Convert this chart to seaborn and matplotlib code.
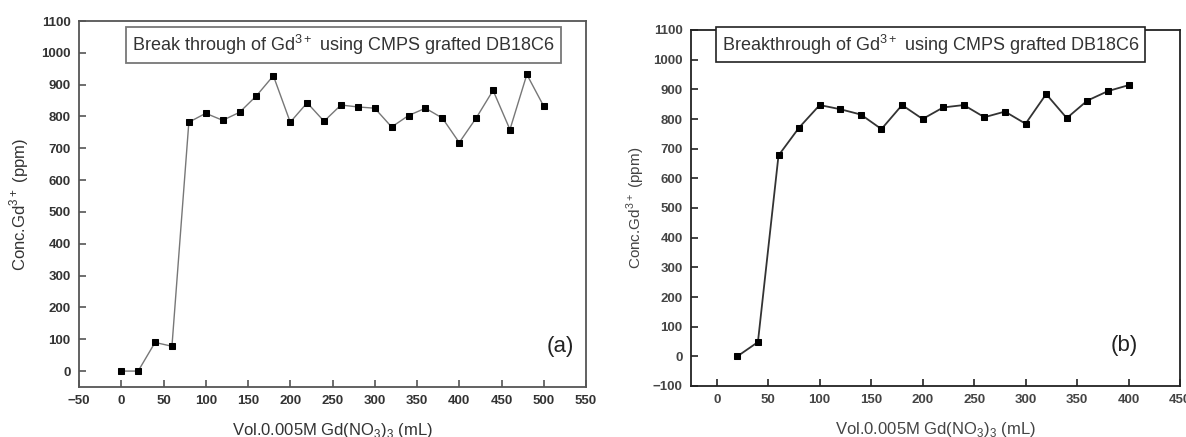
import numpy as np
import pandas as pd
import matplotlib
matplotlib.use("Agg")
from matplotlib import pyplot as plt
import seaborn as sns

sns.set_theme(style="white")
plt.rcParams['font.family'] = ['Liberation Sans', 'DejaVu Sans']
plt.rcParams['mathtext.fontset'] = 'custom'
plt.rcParams['mathtext.rm'] = 'Liberation Sans'

# Panel (a) data
vol_a = [0, 20, 40, 60, 80, 100, 120, 140, 160, 180, 200, 220, 240,
         260, 280, 300, 320, 340, 360, 380, 400, 420, 440, 460, 480, 500]
conc_a = [0, 0, 90, 78, 782, 810, 788, 813, 865, 928, 782, 843, 785,
          836, 830, 826, 767, 803, 826, 795, 718, 795, 882, 759, 932, 832]

# Panel (b) data
vol_b = [20, 40, 60, 80, 100, 120, 140, 160, 180, 200, 220, 240,
         260, 280, 300, 320, 340, 360, 380, 400]
conc_b = [0, 48, 677, 771, 847, 833, 815, 766, 847, 800, 839, 847,
          806, 825, 784, 884, 803, 862, 894, 914]

xlabel = "Vol.0.005M Gd(NO$_3$)$_3$ (mL)"
ylabel = "Conc.Gd$^{3+}$ (ppm)"

fig = plt.figure(figsize=(11.86, 4.37), dpi=100)
W, H = 1186, 437

def px_axes(l, t, r, b):
    return fig.add_axes([l / W, 1 - b / H, (r - l) / W, (b - t) / H])

ax_a = px_axes(79, 21, 586, 387)
ax_b = px_axes(691, 30, 1180, 386)

df_a = pd.DataFrame({"vol": vol_a, "conc": conc_a})
df_b = pd.DataFrame({"vol": vol_b, "conc": conc_b})

sns.lineplot(data=df_a, x="vol", y="conc", ax=ax_a, color="#777777", lw=1.0,
             marker="s", markersize=5, markerfacecolor="black",
             markeredgecolor="black")
sns.lineplot(data=df_b, x="vol", y="conc", ax=ax_b, color="#333333", lw=1.3,
             marker="s", markersize=5, markerfacecolor="black",
             markeredgecolor="black")

# axis set-up
ax_a.set_xlim(-50, 550)
ax_a.set_ylim(-50, 1100)
ax_a.set_xticks(np.arange(-50, 551, 50))
ax_a.set_yticks(np.arange(0, 1101, 100))

ax_b.set_xlim(-25, 450)
ax_b.set_ylim(-100, 1100)
ax_b.set_xticks(np.arange(0, 451, 50))
ax_b.set_yticks(np.arange(-100, 1101, 100))

for ax, spc, tcol in [(ax_a, "#555555", "#333333"), (ax_b, "#222222", "#444444")]:
    for s in ax.spines.values():
        s.set_color(spc)
        s.set_linewidth(1.3)
    ax.tick_params(axis="both", direction="in", length=5, width=1.2,
                   colors=spc, labelcolor=tcol, labelsize=9.5, pad=6,
                   bottom=True, left=True, top=False, right=False)
    for lab in ax.get_xticklabels() + ax.get_yticklabels():
        lab.set_fontweight("bold")

ax_a.set_xlabel(xlabel, fontsize=12, color="#333333", labelpad=10)
ax_a.set_ylabel(ylabel, fontsize=12, color="#333333", labelpad=7)
ax_b.set_xlabel(xlabel, fontsize=12, color="#444444", labelpad=10)
ax_b.set_ylabel(ylabel, fontsize=11, color="#444444", labelpad=4)

# title boxes
ax_a.text(0.522, 0.9345, "Break through of Gd$^{3+}$ using CMPS grafted DB18C6",
          transform=ax_a.transAxes, ha="center", va="center", fontsize=13,
          color="#333333",
          bbox=dict(boxstyle="square,pad=0.35", fc="white", ec="#777777", lw=1.3))
ax_b.text(0.49, 0.958, "Breakthrough of Gd$^{3+}$ using CMPS grafted DB18C6",
          transform=ax_b.transAxes, ha="center", va="center", fontsize=13,
          color="#333333",
          bbox=dict(boxstyle="square,pad=0.3", fc="white", ec="#222222", lw=1.2))

# panel letters
ax_a.text(0.95, 0.11, "(a)", transform=ax_a.transAxes, ha="center",
          va="center", fontsize=16, color="#222222")
ax_b.text(0.885, 0.115, "(b)", transform=ax_b.transAxes, ha="center",
          va="center", fontsize=16, color="#222222")

fig.savefig("out.png", dpi=100)
